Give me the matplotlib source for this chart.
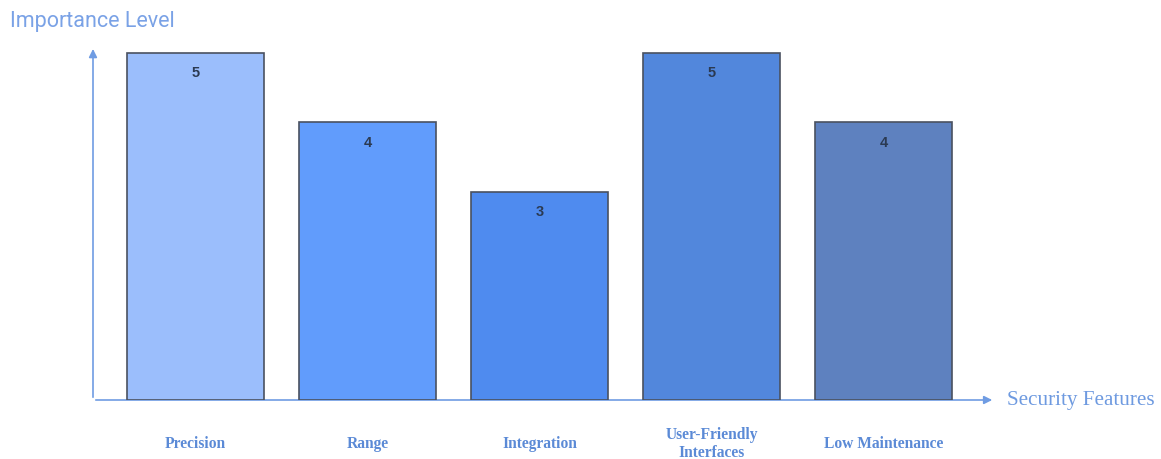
import matplotlib.pyplot as plt
import matplotlib.transforms as mtransforms

categories = ['Precision', 'Range', 'Integration', 'User-Friendly\nInterfaces', 'Low Maintenance']
values = [5, 4, 3, 5, 4]
colors = ['#9bbefc', '#619cfc', '#4f8bef', '#5287dc', '#5e81bf']

axis_color = '#6f9ce3'
label_color = '#5b8ad6'

fig = plt.figure(figsize=(11.61, 4.59), dpi=100)
ax = fig.add_axes([93 / 1161, 59 / 459, 902 / 1161, 357.4 / 459])

x = list(range(len(categories)))
ax.bar(x, values, width=0.8, color=colors, edgecolor='#4a5160', linewidth=1.2, zorder=2)

for xi, v in zip(x, values):
    ax.text(xi, v - 0.29, str(v), ha='center', va='center', fontsize=10.5,
            fontweight='bold', family='Liberation Sans', color='#2b3a52', zorder=3)

ax.set_xlim(-0.596, 4.648)
ax.set_ylim(0, 5.15)
for s in ax.spines.values():
    s.set_visible(False)
ax.set_xticks([])
ax.set_yticks([])

# axis arrows
ax.annotate('', xy=(1.0, 0), xytext=(0, 0), xycoords='axes fraction',
            arrowprops=dict(arrowstyle='-|>', color=axis_color, lw=1.2, mutation_scale=12),
            annotation_clip=False, zorder=1)
ax.annotate('', xy=(0, 0.99), xytext=(0, 0), xycoords='axes fraction',
            arrowprops=dict(arrowstyle='-|>', color=axis_color, lw=1.2, mutation_scale=12),
            annotation_clip=False, zorder=1)

# category labels
trans = mtransforms.blended_transform_factory(ax.transData, ax.transAxes)
for xi, c in zip(x, categories):
    ax.text(xi, -0.123, c, transform=trans, ha='center', va='center', fontsize=11.2,
            fontweight='bold', family='Liberation Serif', color=label_color,
            linespacing=1.2)

fig.text(10 / 1161, 1 - 22 / 459, 'Importance Level', ha='left', va='center',
         fontsize=15.5, family='Roboto', color='#7aa2e6')
fig.text(1007 / 1161, 1 - 400 / 459, 'Security Features', ha='left', va='center',
         fontsize=15.2, family='Liberation Serif', color='#6e9ae0')

plt.savefig('out.png', dpi=100)
